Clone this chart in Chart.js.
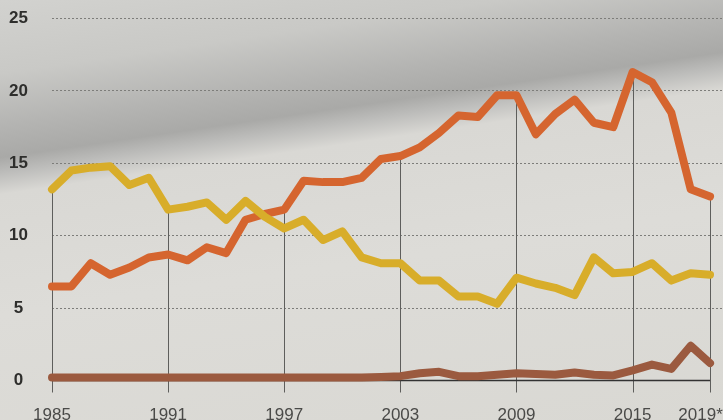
<!DOCTYPE html>
<html>
<head>
<meta charset="utf-8">
<script src="https://cdn.jsdelivr.net/npm/chart.js@4"></script>
<style>
  html, body { margin: 0; padding: 0; }
  body {
    width: 723px; height: 420px; overflow: hidden;
    background: linear-gradient(171.7deg, #d2d2cf 0%, #c9c9c6 14%, #b4b4b2 24%, #a9a9a7 30%, #bdbdbb 33%, #d9d8d4 37%, #dddcd8 60%, #d9d8d3 100%);
  }
  #wrap { position: relative; width: 723px; height: 420px; }
</style>
</head>
<body>
<div id="wrap"><canvas id="graf"></canvas></div>
<script>
// roky
var roky = [];
for (var r = 1985; r <= 2019; r++) roky.push(r);

// hodnoty
var oranzova = [6.5, 6.5, 8.1, 7.3, 7.8, 8.5, 8.7, 8.3, 9.2, 8.8,
  11.1, 11.5, 11.8, 13.8, 13.7, 13.7, 14.0, 15.3, 15.5, 16.1,
  17.1, 18.3, 18.2, 19.7, 19.7, 17.0, 18.4, 19.4, 17.8, 17.5,
  21.3, 20.6, 18.5, 13.2, 12.7];
var zluta = [13.2, 14.5, 14.7, 14.8, 13.5, 14.0, 11.8, 12.0, 12.3, 11.1,
  12.4, 11.3, 10.5, 11.1, 9.7, 10.3, 8.5, 8.1, 8.1, 6.9,
  6.9, 5.8, 5.8, 5.3, 7.1, 6.7, 6.4, 5.9, 8.5, 7.4,
  7.5, 8.1, 6.9, 7.4, 7.3];
var hneda = [0.2, 0.2, 0.2, 0.2, 0.2, 0.2, 0.2, 0.2, 0.2, 0.2,
  0.2, 0.2, 0.2, 0.2, 0.2, 0.2, 0.2, 0.25, 0.3, 0.5,
  0.6, 0.3, 0.3, 0.4, 0.5, 0.45, 0.4, 0.55, 0.4, 0.35,
  0.7, 1.1, 0.8, 2.4, 1.2];

var osaX = [1985, 1991, 1997, 2003, 2009, 2015, 2019];
var popiskyX = ["1985", "1991", "1997", "2003", "2009", "2015", "2019*\u00a0\u00a0\u00a0\u00a0"];
var osaY = [0, 5, 10, 15, 20, 25];

function body(hodnoty) {
  return hodnoty.map(function (v, i) { return { x: roky[i], y: v }; });
}

function rada(hodnoty, barva) {
  return {
    data: body(hodnoty),
    borderColor: barva,
    borderWidth: 8,
    borderJoinStyle: "round",
    borderCapStyle: "round",
    pointRadius: 0,
    tension: 0,
    clip: false
  };
}

// svislé čáry od nejvyšší hodnoty k ose + základní čára
var svisle = {
  id: "svisle",
  beforeDatasetsDraw: function (chart) {
    var c = chart.ctx, sx = chart.scales.x, sy = chart.scales.y;
    c.save();
    c.strokeStyle = "#5e5e5c";
    c.lineWidth = 1;
    osaX.forEach(function (rok) {
      var i = roky.indexOf(rok);
      var max = Math.max(oranzova[i], zluta[i], hneda[i]);
      var x = Math.round(sx.getPixelForValue(rok)) + 0.5;
      c.beginPath();
      c.moveTo(x, sy.getPixelForValue(max));
      c.lineTo(x, sy.getPixelForValue(0) + 12);
      c.stroke();
    });
    c.strokeStyle = "#333";
    c.lineWidth = 1.5;
    c.beginPath();
    c.moveTo(sx.getPixelForValue(roky[0]), sy.getPixelForValue(0));
    c.lineTo(sx.getPixelForValue(roky[roky.length - 1]), sy.getPixelForValue(0));
    c.stroke();
    c.restore();
  }
};

let graf = document.getElementById("graf").getContext("2d");
let SF = new Chart(graf, {
  type: "line",
  data: {
    datasets: [
      rada(hneda, "#9b5a3f"),
      rada(zluta, "#d8ad2a"),
      rada(oranzova, "#d5652f")
    ]
  },
  options: {
    responsive: true,
    maintainAspectRatio: false,
    animation: false,
    layout: { padding: { top: 18.5, right: 0, left: 0, bottom: 0 } },
    plugins: { legend: { display: false }, tooltip: { enabled: false } },
    scales: {
      x: {
        type: "linear",
        min: 1985,
        max: 2019.67,
        afterBuildTicks: function (s) { s.ticks = osaX.map(function (v) { return { value: v }; }); },
        afterFit: function (s) {
          s.height = 39.5;
          s.paddingLeft = 0; s.paddingRight = 0;
        },
        grid: { display: false, drawTicks: false },
        border: { display: false },
        ticks: {
          padding: 25,
          maxRotation: 0,
          autoSkip: false,
          color: "#4a4a48",
          font: { family: "Liberation Sans", size: 17 },
          callback: function (v) { return popiskyX[osaX.indexOf(v)]; }
        }
      },
      y: {
        min: 0,
        max: 25,
        afterBuildTicks: function (s) { s.ticks = osaY.map(function (v) { return { value: v }; }); },
        afterFit: function (s) {
          s.width = 52;
          s.paddingTop = 0; s.paddingBottom = 0;
        },
        grid: {
          drawTicks: false,
          color: function (ctx) { return ctx.tick && ctx.tick.value === 0 ? "rgba(0,0,0,0)" : "#7d7d7a"; },
          lineWidth: 1
        },
        border: { display: false, dash: [2, 2] },
        ticks: {
          padding: 24,
          crossAlign: "center",
          color: "#2e2e2c",
          font: { family: "Liberation Sans", size: 17, weight: "bold" }
        }
      }
    }
  },
  plugins: [svisle]
});
</script>
</body>
</html>
